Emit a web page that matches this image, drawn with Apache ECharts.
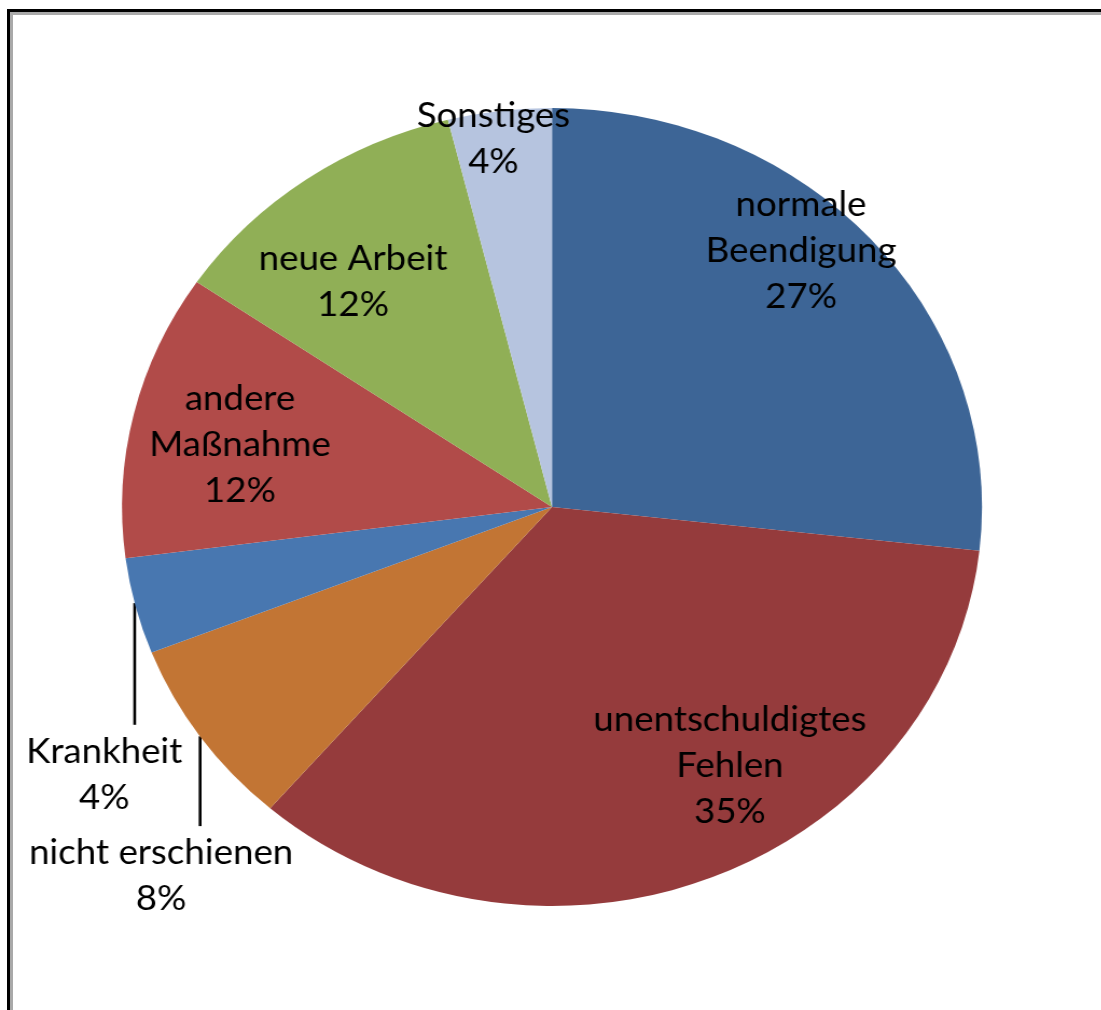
<!DOCTYPE html>
<html>
<head>
<meta charset="utf-8">
<script src="https://cdn.jsdelivr.net/npm/echarts@6/dist/echarts.min.js"></script>
<style>
  html, body { margin: 0; padding: 0; background: #fff; }
  .page-wrap { position: relative; width: 1101px; height: 1010px; overflow: hidden; background: #fff; }
  .frame-outer {
    position: absolute; left: 7px; top: 9px; right: 0; bottom: 0; z-index: 10;
    border-top: 3px solid #000; border-left: 3px solid #000;
  }
  .frame-inner {
    position: absolute; left: 10px; top: 12px; right: 0; bottom: 0; z-index: 10;
    border-top: 3px solid #a9a9a9; border-left: 3px solid #a9a9a9;
  }
  /* the source picture is stretched sideways, so the whole chart is too */
  #chart-dom-1 {
    position: absolute; left: 0; top: 0;
    width: 1022px; height: 1010px;
    transform: scaleX(1.0777); transform-origin: 0 0;
  }
</style>
</head>
<body>
<div class="page-wrap">
  <div id="chart-dom-1"></div>
  <div class="frame-outer"></div>
  <div class="frame-inner"></div>
</div>
<script>
// slices, clockwise from 12 o'clock
const names = ['normale\nBeendigung', 'unentschuldigtes\nFehlen', 'nicht erschienen', 'Krankheit', 'andere\nMaßnahme', 'neue Arbeit', 'Sonstiges']
const shares = [26.8, 34.7, 7.7, 3.9, 11.6, 11.6, 3.9]
const colors = ['#3d6596', '#953b3c', '#c27534', '#4877b0', '#b14b49', '#90af56', '#b6c4df']

// label placement (polar: degrees clockwise from top, fraction of radius)
const labelAngle = [42.1, 147.5, 224.5, 237.2, 282.1, 320.6, 351.6]
const labelDist = [0.864, 0.77, 1.297, 1.239, 0.742, 0.729, 0.932]
const leaderShift = [null, null, 36.2, 28.3, null, null, null]

const cx = 512.2
const cy = 507
const R = 399

let chartInstance = null
function initChart() {
  const chartDom = document.getElementById('chart-dom-1')
  chartInstance = echarts.init(chartDom)

  const data = names.map((n, i) => {
    const item = { name: n, value: shares[i], itemStyle: { color: colors[i] } }
    if (leaderShift[i] != null || i === 6) {
      item.label = { position: 'outside' }
      item.labelLine = { show: leaderShift[i] != null }
    }
    return item
  })

  const option = {
    animation: false,
    series: [
      {
        type: 'pie',
        center: [cx, cy],
        radius: R,
        startAngle: 90,
        clockwise: true,
        avoidLabelOverlap: false,
        data: data,
        itemStyle: { borderWidth: 0 },
        label: {
          show: true,
          position: 'inside',
          formatter: (p) => p.name + '\n' + Math.round(p.value) + '%',
          fontFamily: 'Lato',
          fontSize: 34,
          lineHeight: 46,
          color: '#000',
          align: 'center',
        },
        labelLine: {
          show: false,
          lineStyle: { color: '#000', width: 2.6 },
        },
        labelLayout: function (params) {
          const i = params.dataIndex
          const a = labelAngle[i] * Math.PI / 180
          const d = labelDist[i] * R
          const x = cx + d * Math.sin(a)
          const y = cy - d * Math.cos(a)
          const out = { x: x, y: y, align: 'center', verticalAlign: 'middle' }
          if (leaderShift[i] != null) {
            const lx = x + leaderShift[i]
            const ey = cy + Math.sqrt(R * R - (lx - cx) * (lx - cx))
            const top = y - params.labelRect.height / 2 - 4
            out.labelLinePoints = [[lx, ey], [lx, top], [lx, top]]
          }
          return out
        },
      },
    ],
  }

  chartInstance.setOption(option)
}

initChart()
</script>
</body>
</html>
